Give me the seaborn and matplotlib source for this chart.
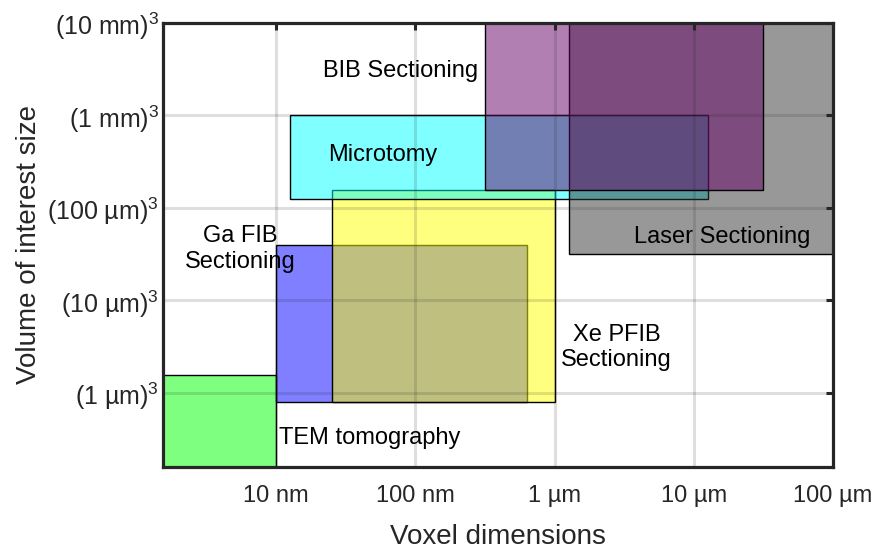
import matplotlib
matplotlib.use("Agg")
import matplotlib.pyplot as plt
import seaborn as sns
from matplotlib.patches import Rectangle

# ---- data (voxel size in nm, volume-of-interest edge length in µm) ----
techniques = ["TEM tomography", "Ga FIB Sectioning", "Xe PFIB Sectioning",
              "Microtomy", "Laser Sectioning", "BIB Sectioning"]
voxel_min_nm = [1.0, 10.0, 25.0, 12.6, 1260.0, 316.0]
voxel_max_nm = [10.0, 631.0, 1000.0, 12600.0, 100000.0, 31600.0]
voi_min_um = [0.1, 0.79, 0.79, 126.0, 31.6, 158.0]
voi_max_um = [1.58, 39.8, 158.0, 1000.0, 10000.0, 10000.0]
face_colors = [(0, 1, 0), (0, 0, 1), (1, 1, 0), (0, 1, 1), (0.2, 0.2, 0.2), (0.4, 0, 0.4)]

label_texts = ["TEM tomography", "Ga FIB\nSectioning", "Xe PFIB\nSectioning",
               "Microtomy", "Laser Sectioning", "BIB Sectioning"]
label_x_nm = [47.0, 5.5, 2790.0, 58.0, 15900.0, 78.0]
label_y_um = [0.326, 36.0, 3.1, 374.0, 48.6, 3000.0]

x_ticks = [10, 100, 1000, 10000, 100000]
x_tick_labels = ["10 nm", "100 nm", "1 µm", "10 µm", "100 µm"]
y_ticks = [1, 10, 100, 1000, 10000]
y_tick_labels = [r"(1 µm)$^3$", r"(10 µm)$^3$", r"(100 µm)$^3$", r"(1 mm)$^3$", r"(10 mm)$^3$"]

x_limits = (1.54, 100000)
y_limits = (0.158, 10000)

# ---- style ----
sns.set_theme(style="white")
plt.rcParams["font.family"] = ["Liberation Sans", "DejaVu Sans"]
plt.rcParams["mathtext.fontset"] = "custom"
plt.rcParams["mathtext.rm"] = "Liberation Sans"
plt.rcParams["mathtext.it"] = "Liberation Sans"
plt.rcParams["mathtext.default"] = "rm"

fig = plt.figure(figsize=(8.73, 5.51), dpi=100)
ax = fig.add_axes([163 / 873, 1 - 467 / 551, (833 - 163) / 873, (467 - 23) / 551])
ax.set_xscale("log")
ax.set_yscale("log")
ax.set_xlim(*x_limits)
ax.set_ylim(*y_limits)

for x0, x1, y0, y1, c in zip(voxel_min_nm, voxel_max_nm, voi_min_um, voi_max_um, face_colors):
    ax.add_patch(Rectangle((x0, y0), x1 - x0, y1 - y0,
                           facecolor=(*c, 0.5), edgecolor="black", linewidth=1.0, zorder=1))

for t, x, y in zip(label_texts, label_x_nm, label_y_um):
    ax.text(x, y, t, ha="center", va="center", fontsize=17, color="black",
            linespacing=1.2, zorder=5)

ax.set_xticks(x_ticks)
ax.set_xticklabels(x_tick_labels)
ax.set_yticks(y_ticks)
ax.set_yticklabels(y_tick_labels)
ax.minorticks_off()

ax.tick_params(axis="both", which="major", direction="in", length=5, width=2.2,
               color="#262626", labelcolor="#262626", top=True, right=True)
ax.tick_params(axis="x", pad=13, labelsize=17)
ax.tick_params(axis="y", pad=3, labelsize=18)

ax.grid(True, which="major", color=(0.15, 0.15, 0.15), alpha=0.15, linewidth=2.2)
ax.set_axisbelow(False)

for s in ax.spines.values():
    s.set_visible(True)
    s.set_color("#262626")
    s.set_linewidth(2.3)
    s.set_zorder(6)

ax.set_xlabel("Voxel dimensions", fontsize=20, color="#262626", labelpad=12)
ax.set_ylabel("Volume of interest size", fontsize=20, color="#262626", labelpad=4)

fig.savefig("out.png", dpi=100)
